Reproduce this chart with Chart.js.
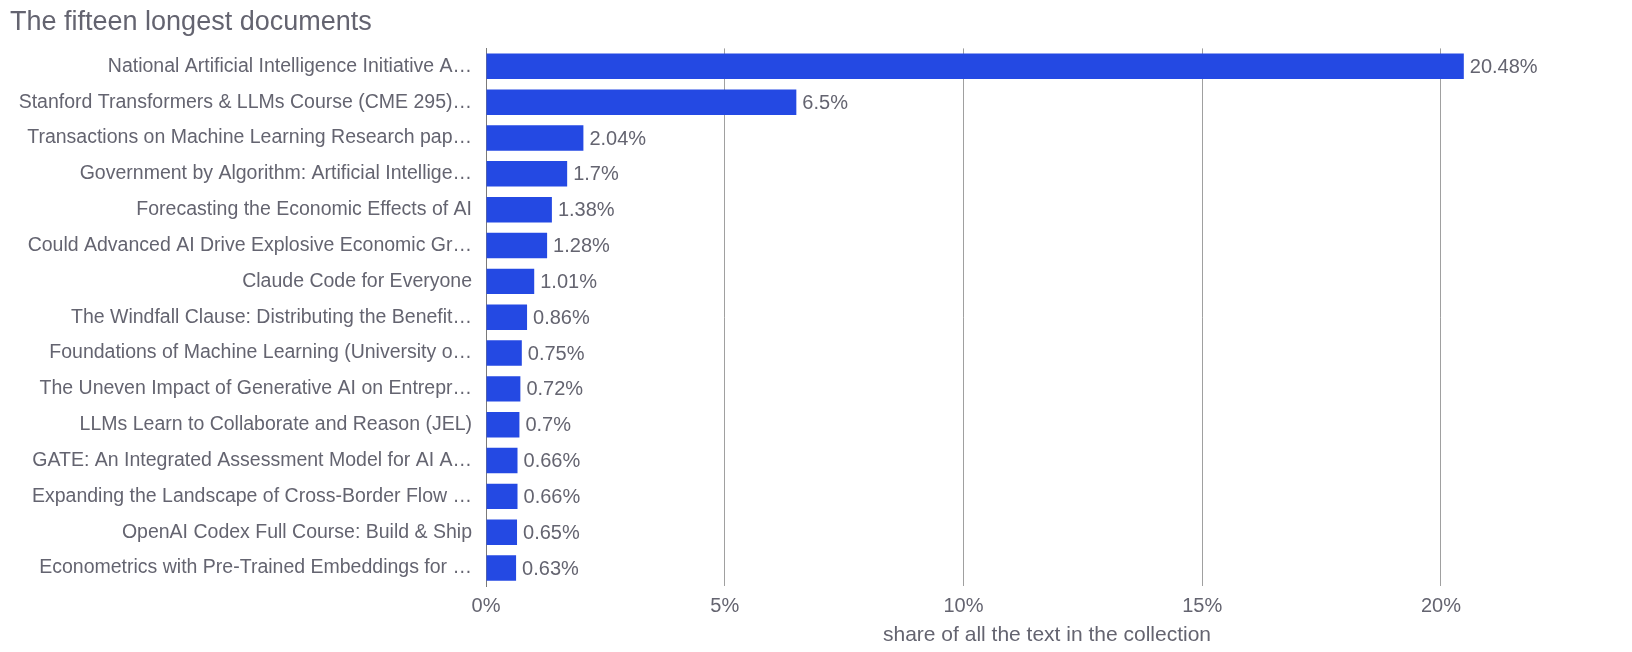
<!DOCTYPE html>
<html>
<head>
<meta charset="utf-8">
<script src="https://cdn.jsdelivr.net/npm/chart.js@4"></script>
<style>
  html, body { margin: 0; padding: 0; background: #fff; }
  #wrap { width: 1632px; height: 652px; position: relative; }
</style>
</head>
<body>
<div id="wrap"><canvas id="chart"></canvas></div>
<script>
const titulo = "The fifteen longest documents";
const ejeX = "share of all the text in the collection";

const documentos = [
    "National Artificial Intelligence Initiative A…",
    "Stanford Transformers & LLMs Course (CME 295)…",
    "Transactions on Machine Learning Research pap…",
    "Government by Algorithm: Artificial Intellige…",
    "Forecasting the Economic Effects of AI",
    "Could Advanced AI Drive Explosive Economic Gr…",
    "Claude Code for Everyone",
    "The Windfall Clause: Distributing the Benefit…",
    "Foundations of Machine Learning (University o…",
    "The Uneven Impact of Generative AI on Entrepr…",
    "LLMs Learn to Collaborate and Reason (JEL)",
    "GATE: An Integrated Assessment Model for AI A…",
    "Expanding the Landscape of Cross-Border Flow …",
    "OpenAI Codex Full Course: Build & Ship",
    "Econometrics with Pre-Trained Embeddings for …"
];
const porcentajes = [20.48, 6.5, 2.04, 1.7, 1.38, 1.28, 1.01, 0.86, 0.75, 0.72, 0.7, 0.66, 0.66, 0.65, 0.63];
const marcasX = [0, 5, 10, 15, 20];

const colorTexto = "#646470";
const colorBarra = "#2449e3";
const fuente = "'Liberation Sans', Arial, sans-serif";

// etiquetas al final de cada barra
const etiquetasValor = {
    id: "etiquetasValor",
    afterDatasetsDraw(chart) {
        const ctx = chart.ctx;
        const meta = chart.getDatasetMeta(0);
        ctx.save();
        ctx.font = `20px ${fuente}`;
        ctx.fillStyle = colorTexto;
        ctx.textAlign = "left";
        ctx.textBaseline = "middle";
        meta.data.forEach((bar, i) => {
            ctx.fillText(porcentajes[i] + "%", bar.x + 6, bar.y + 1);
        });
        ctx.restore();
    }
};

new Chart(document.getElementById("chart"), {
    type: "bar",
    data: {
        labels: documentos,
        datasets: [{
            data: porcentajes,
            backgroundColor: colorBarra,
            borderWidth: 0,
            categoryPercentage: 1,
            barPercentage: 0.71
        }]
    },
    plugins: [etiquetasValor],
    options: {
        indexAxis: "y",
        responsive: true,
        maintainAspectRatio: false,
        animation: false,
        layout: { padding: { left: 10, right: 24, top: 0, bottom: 0 } },
        scales: {
            x: {
                min: 0,
                max: 23.5,
                afterBuildTicks: (scale) => {
                    scale.ticks = marcasX.map(v => ({ value: v }));
                },
                afterFit: (scale) => { scale.height = 66; },
                grid: {
                    color: (c) => c.tick && c.tick.value === 0 ? "#7a7a7a" : "#a0a0a0",
                    drawTicks: false
                },
                border: { display: false },
                ticks: {
                    padding: 8,
                    color: colorTexto,
                    font: { family: fuente, size: 20 },
                    callback: (v) => v + "%"
                },
                title: {
                    display: true,
                    text: ejeX,
                    color: colorTexto,
                    font: { family: fuente, size: 21 },
                    padding: { top: 0, bottom: 4 }
                }
            },
            y: {
                afterFit: (scale) => { scale.width = 476; },
                grid: { display: false, drawTicks: false },
                border: { display: true, color: "#7a7a7a" },
                ticks: {
                    padding: 14,
                    color: colorTexto,
                    font: { family: fuente, size: 19.5 }
                }
            }
        },
        plugins: {
            legend: { display: false },
            tooltip: { enabled: false },
            title: {
                display: true,
                text: titulo,
                align: "start",
                color: colorTexto,
                font: { family: fuente, size: 27, weight: "normal" },
                padding: { top: 6, bottom: 10 }
            }
        }
    }
});
</script>
</body>
</html>
